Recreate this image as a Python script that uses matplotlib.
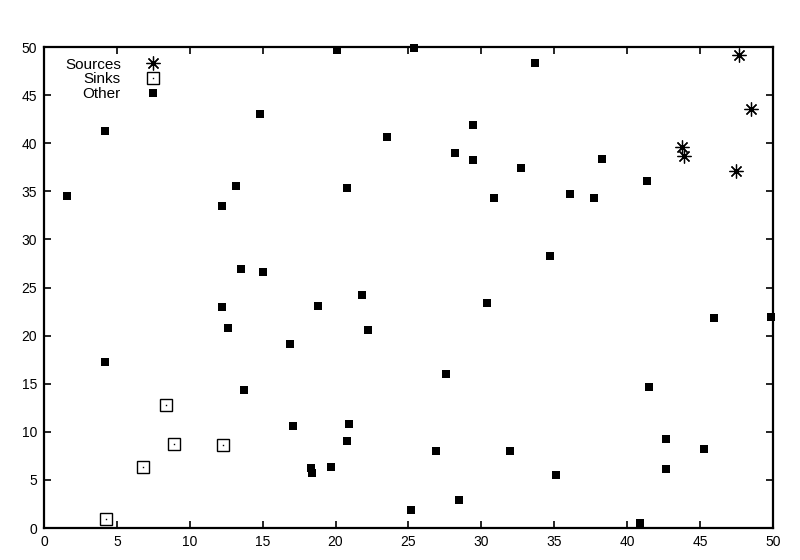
import matplotlib
matplotlib.use("Agg")
import matplotlib.pyplot as plt
from matplotlib.legend_handler import HandlerTuple

plt.rcParams['font.family'] = ['Liberation Sans', 'DejaVu Sans']

sources_x = [47.7, 48.5, 43.8, 43.9, 47.5]
sources_y = [49.2, 43.6, 39.6, 38.7, 37.1]

sinks_x = [4.25, 6.8, 8.4, 8.9, 12.3]
sinks_y = [0.9, 6.3, 12.8, 8.7, 8.6]

other_x = [1.6, 4.2, 4.2, 14.8, 12.2, 13.2, 13.5, 15.0, 12.2, 12.6, 13.7,
           16.9, 17.1, 18.3, 18.4, 18.8, 19.7, 20.1, 20.8, 20.9, 20.8, 21.8,
           22.2, 23.5, 25.4, 25.2, 26.9, 27.6, 28.2, 28.5, 29.4, 29.4, 30.4,
           30.9, 32.0, 32.7, 33.7, 34.7, 35.1, 36.1, 37.7, 38.3, 40.9, 41.4,
           41.5, 42.7, 42.7, 45.3, 46.0, 49.9]
other_y = [34.5, 41.3, 17.3, 43.0, 33.5, 35.6, 26.9, 26.6, 23.0, 20.8, 14.4,
           19.1, 10.6, 6.2, 5.7, 23.1, 6.3, 49.7, 35.3, 10.8, 9.0, 24.2,
           20.6, 40.7, 49.9, 1.9, 8.0, 16.0, 39.0, 2.9, 41.9, 38.3, 23.4,
           34.3, 8.0, 37.4, 48.3, 28.3, 5.5, 34.7, 34.3, 38.4, 0.5, 36.1,
           14.7, 9.3, 6.1, 8.2, 21.8, 21.9]

xticks = [0, 5, 10, 15, 20, 25, 30, 35, 40, 45, 50]
yticks = [0, 5, 10, 15, 20, 25, 30, 35, 40, 45, 50]

fig = plt.figure(figsize=(8, 5.6), dpi=100)
ax = fig.add_axes([0.055, 0.057, 0.911, 0.859])

src, = ax.plot(sources_x, sources_y, linestyle='none', marker=(8, 2, 0),
               markersize=10, markeredgewidth=0.9, color='black', clip_on=False)
snk_box, = ax.plot(sinks_x, sinks_y, linestyle='none', marker='s',
                   markersize=8, markerfacecolor='white', markeredgecolor='black',
                   markeredgewidth=1.0, clip_on=False)
snk_dot, = ax.plot(sinks_x, sinks_y, linestyle='none', marker='s',
                   markersize=1, color='black', markeredgewidth=0, clip_on=False)
oth, = ax.plot(other_x, other_y, linestyle='none', marker='s',
               markersize=6, color='black', markeredgewidth=0, clip_on=False)

ax.set_xlim(0, 50)
ax.set_ylim(0, 50)
ax.set_xticks(xticks)
ax.set_yticks(yticks)
ax.tick_params(direction='in', top=True, right=True, length=5, width=1.2,
               labelsize=10, pad=5)
for s in ax.spines.values():
    s.set_linewidth(1.6)

ax.legend([src, (snk_box, snk_dot), oth], ['Sources', 'Sinks', 'Other'],
          handler_map={tuple: HandlerTuple(ndivide=1)},
          loc='upper left', bbox_to_anchor=(0.014, 1.0), frameon=False,
          markerfirst=False, fontsize=11, handlelength=1.2,
          handletextpad=1.5, labelspacing=0.05, borderaxespad=0.3,
          alignment='right')

fig.savefig('out.png', dpi=100)
